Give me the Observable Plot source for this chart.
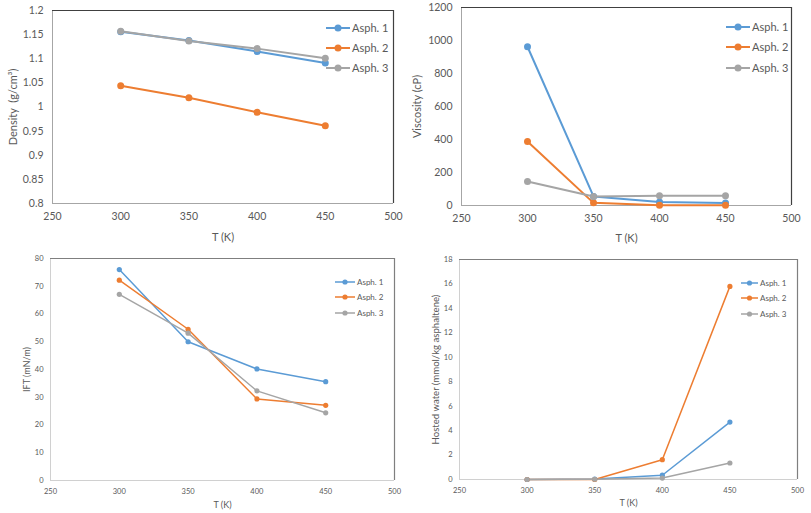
<!DOCTYPE html>
<html><head><meta charset="utf-8">
<script src="https://cdn.jsdelivr.net/npm/d3@7"></script>
<script src="https://cdn.jsdelivr.net/npm/@observablehq/plot@0.6"></script>
<style>
body{margin:0;background:#fff;}
#wrap{position:relative;width:811px;height:513px;overflow:hidden;font-family:Lato,"Open Sans",sans-serif;}
.panel{position:absolute;overflow:visible;}
</style></head><body><div id="wrap"></div>
<script>
const temps = [300, 350, 400, 450];
const seriesNames = ["Asph. 1", "Asph. 2", "Asph. 3"];
const colors = ["#5b9bd5", "#ed7d31", "#a5a5a5"];
const xTicks = [250, 300, 350, 400, 450, 500];

const density1 = [1.156, 1.138, 1.115, 1.091];
const density2 = [1.044, 1.019, 0.989, 0.961];
const density3 = [1.157, 1.137, 1.121, 1.101];
const densityTicks = [0.8, 0.85, 0.9, 0.95, 1, 1.05, 1.1, 1.15, 1.2];

const visc1 = [962, 55, 21, 15];
const visc2 = [388, 16, 2, 1];
const visc3 = [145, 55, 59, 59];
const viscTicks = [0, 200, 400, 600, 800, 1000, 1200];

const ift1 = [76.0, 50.0, 40.2, 35.6];
const ift2 = [72.2, 54.5, 29.4, 27.1];
const ift3 = [67.1, 53.1, 32.3, 24.4];
const iftTicks = [0, 10, 20, 30, 40, 50, 60, 70, 80];

const water1 = [0, 0.04, 0.35, 4.7];
const water2 = [0, 0, 1.62, 15.8];
const water3 = [0, 0.02, 0.12, 1.35];
const waterTicks = [0, 2, 4, 6, 8, 10, 12, 14, 16, 18];

const xLabel = "T (K)";
const FONT = "Lato, 'Open Sans', sans-serif";
const wrap = document.getElementById("wrap");

function panel(cfg) {
  const rows = [];
  cfg.values.forEach((vals, si) => vals.forEach((v, i) => rows.push({T: temps[i], v, s: seriesNames[si]})));
  const y0 = cfg.yTicks[0], y1 = cfg.yTicks[cfg.yTicks.length - 1];
  const chart = Plot.plot({
    width: cfg.w, height: cfg.h,
    marginLeft: cfg.ml, marginRight: cfg.mr, marginTop: cfg.mt, marginBottom: cfg.mb,
    x: {domain: [250, 500]},
    y: {domain: [y0, y1]},
    color: {domain: seriesNames, range: colors},
    style: {fontFamily: FONT, color: "#595959", background: "transparent", fontSize: cfg.fs + "px", overflow: "visible"},
    marks: [
      Plot.ruleY([y0], {stroke: cfg.light, strokeWidth: 1}),
      Plot.ruleX([250], {stroke: cfg.light, strokeWidth: 1}),
      Plot.ruleY([y1], {stroke: cfg.dark, strokeWidth: 1.2}),
      Plot.ruleX([500], {stroke: cfg.dark, strokeWidth: 1.2}),
      Plot.axisX({ticks: xTicks, tickSize: 0, tickPadding: cfg.xpad, label: null, fontSize: cfg.fs, tickFormat: d => String(d)}),
      Plot.axisY({ticks: cfg.yTicks, tickSize: 0, tickPadding: cfg.ypad, label: null, fontSize: cfg.fs, tickFormat: d => String(d)}),
      Plot.text([xLabel], {text: d => d, frameAnchor: "bottom", textAnchor: "middle", lineAnchor: "middle", dy: cfg.xdy, fontSize: cfg.xlfs, fill: "#595959"}),
      Plot.text([cfg.ylabel], {text: d => d, frameAnchor: "left", textAnchor: "middle", lineAnchor: "middle", rotate: -90, dx: cfg.ydx, fontSize: cfg.ylfs, fill: "#595959"}),
      Plot.line(rows, {x: "T", y: "v", stroke: "s", z: "s", strokeWidth: cfg.sw}),
      Plot.dot(rows, {x: "T", y: "v", fill: "s", r: cfg.r})
    ]
  });
  chart.classList.add("panel");
  chart.style.left = cfg.left + "px";
  chart.style.top = cfg.top + "px";
  wrap.appendChild(chart);
}

panel({left: 0, top: 0, w: 400, h: 250, ml: 52, mr: 7, mt: 10, mb: 47, values: [density1, density2, density3], yTicks: densityTicks, ylabel: "Density  (g/cm³)", fs: 10.5, xpad: 9, ypad: 9, xdy: 34, ydx: -39, xlfs: 11, ylfs: 11, sw: 2, r: 3.5, light: "#a6a6a6", dark: "#404040"});
panel({left: 400, top: 0, w: 411, h: 250, ml: 61, mr: 20, mt: 7, mb: 45, values: [visc1, visc2, visc3], yTicks: viscTicks, ylabel: "Viscosity (cP)", fs: 10.5, xpad: 9, ypad: 9, xdy: 33, ydx: -44, xlfs: 11, ylfs: 11, sw: 2, r: 3.5, light: "#a6a6a6", dark: "#404040"});
panel({left: 0, top: 250, w: 400, h: 263, ml: 50, mr: 6, mt: 8, mb: 33, values: [ift1, ift2, ift3], yTicks: iftTicks, ylabel: "IFT (mN/m)", fs: 7.5, xpad: 8, ypad: 7, xdy: 25, ydx: -23, xlfs: 9, ylfs: 9, sw: 1.5, r: 2.6, light: "#d0d0d0", dark: "#7f7f7f"});
panel({left: 400, top: 250, w: 411, h: 263, ml: 59, mr: 14, mt: 9, mb: 34, values: [water1, water2, water3], yTicks: waterTicks, ylabel: "Hosted water (mmol/kg asphaltene)", fs: 7.5, xpad: 8, ypad: 7, xdy: 24, ydx: -24, xlfs: 9, ylfs: 9.6, sw: 1.5, r: 2.6, light: "#d0d0d0", dark: "#7f7f7f"});

// legends
const legends = [
  {x: 326, len: 24, ys: [28, 48, 68], fs: 11, r: 3.5, sw: 2},
  {x: 726, len: 24, ys: [27, 47, 68], fs: 11, r: 3.5, sw: 2},
  {x: 335, len: 20, ys: [282, 297, 313], fs: 8, r: 2.6, sw: 1.5},
  {x: 741, len: 17, ys: [283, 298, 314], fs: 8, r: 2.6, sw: 1.5}
];
const ov = d3.select(wrap).append("svg").attr("width", 811).attr("height", 513)
  .style("position", "absolute").style("left", 0).style("top", 0);
legends.forEach(L => {
  seriesNames.forEach((name, i) => {
    const g = ov.append("g").attr("transform", `translate(${L.x},${L.ys[i]})`);
    g.append("line").attr("x1", 0).attr("x2", L.len).attr("y1", 0).attr("y2", 0).attr("stroke", colors[i]).attr("stroke-width", L.sw);
    g.append("circle").attr("cx", L.len / 2).attr("cy", 0).attr("r", L.r).attr("fill", colors[i]);
    g.append("text").attr("x", L.len + 2).attr("y", 0).attr("dy", "0.35em").attr("fill", "#595959")
      .attr("font-size", L.fs).attr("font-family", FONT).text(name);
  });
});
</script>
</body></html>
